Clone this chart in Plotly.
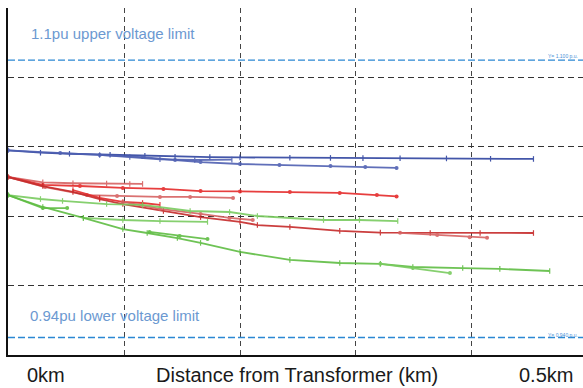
import plotly.graph_objects as go

# ---- data (distance km, voltage pu) ----
blue_main_x = [0, 0.028, 0.053, 0.088, 0.118, 0.144, 0.174, 0.200, 0.243, 0.278, 0.306, 0.338, 0.378, 0.416, 0.453]
blue_main_y = [1.048, 1.0466, 1.046, 1.0454, 1.0448, 1.0443, 1.0441, 1.0439, 1.0437, 1.0436, 1.0435, 1.0434, 1.0433, 1.0431, 1.043]
blue_low_x = [0, 0.045, 0.079, 0.116, 0.144, 0.166, 0.200, 0.234, 0.278, 0.308, 0.335]
blue_low_y = [1.048, 1.0464, 1.0453, 1.0441, 1.0424, 1.0412, 1.0401, 1.0395, 1.0389, 1.0383, 1.0378]
blue_short_x = [0.079, 0.105, 0.131, 0.161, 0.193]
blue_short_y = [1.0453, 1.0441, 1.0428, 1.0424, 1.0426]

red_a_x = [0, 0.030, 0.056, 0.085, 0.105, 0.116]
red_a_y = [1.0326, 1.0295, 1.029, 1.0288, 1.0286, 1.0286]
red_b_x = [0, 0.030, 0.062, 0.099, 0.134, 0.166, 0.200, 0.243, 0.286, 0.318, 0.335]
red_b_y = [1.0326, 1.028, 1.0274, 1.0263, 1.0257, 1.0245, 1.0243, 1.0239, 1.0234, 1.0222, 1.0214]
red_c_x = [0, 0.032, 0.068, 0.094, 0.131, 0.157, 0.194]
red_c_y = [1.0326, 1.0268, 1.0222, 1.0216, 1.0211, 1.0211, 1.0205]
red_d_x = [0.056, 0.079, 0.099, 0.116, 0.131]
red_d_y = [1.0251, 1.0205, 1.0182, 1.0176, 1.0165]
red_e_x = [0, 0.030, 0.056, 0.079, 0.099, 0.134, 0.166, 0.200, 0.215, 0.243, 0.286, 0.321, 0.364, 0.407, 0.453]
red_e_y = [1.0326, 1.0274, 1.024, 1.0199, 1.017, 1.013, 1.0095, 1.0067, 1.0049, 1.0038, 1.0015, 1.0005, 1.0003, 1.0003, 1.0003]
red_f_x = [0.099, 0.131, 0.166, 0.191, 0.211]
red_f_y = [1.0182, 1.0142, 1.0113, 1.009, 1.0078]
red_g_x = [0.338, 0.370, 0.398, 0.413]
red_g_y = [1.0004, 0.9992, 0.9978, 0.9976]

green_a_x = [0, 0.028, 0.047, 0.085, 0.116, 0.157, 0.191, 0.215, 0.272, 0.303, 0.336]
green_a_y = [1.0222, 1.0199, 1.0188, 1.017, 1.0165, 1.013, 1.0124, 1.0101, 1.0078, 1.0078, 1.0072]
green_b_x = [0, 0.030, 0.051]
green_b_y = [1.0222, 1.0147, 1.0147]
green_c_x = [0.065, 0.099, 0.131, 0.172]
green_c_y = [1.009, 1.0078, 1.0072, 1.0067]
green_d_x = [0, 0.030, 0.065, 0.099, 0.120, 0.146, 0.166, 0.200, 0.243, 0.286, 0.321, 0.349, 0.392, 0.424, 0.467]
green_d_y = [1.0222, 1.0153, 1.009, 1.0026, 1.0003, 0.9974, 0.9946, 0.9894, 0.9848, 0.983, 0.9825, 0.9807, 0.9801, 0.9796, 0.9784]
green_e_x = [0.122, 0.148, 0.172]
green_e_y = [1.0009, 0.9986, 0.9968]
green_f_x = [0.321, 0.349, 0.381]
green_f_y = [0.9825, 0.9801, 0.9772]

upper_limit = 1.10
lower_limit = 0.94
x_ticks = [0, 0.1, 0.2, 0.3, 0.4]
y_ticks = [0.93, 0.97, 1.01, 1.05, 1.09, 1.13]

BLUE = "#2f44a0"
BLUE_L = "#4f60b2"
RED = "#e52a2a"
RED_L = "#d66262"
RED_D = "#c62a2a"
GREEN = "#5fbd43"
GREEN_L = "#7acb60"

series = [
    (blue_main_x, blue_main_y, BLUE, "line-ns"),
    (blue_low_x, blue_low_y, BLUE_L, "circle"),
    (blue_short_x, blue_short_y, BLUE_L, "line-ns"),
    (red_a_x, red_a_y, RED_L, "line-ns"),
    (red_b_x, red_b_y, RED, "circle"),
    (red_c_x, red_c_y, RED_L, "circle"),
    (red_d_x, red_d_y, RED, "line-ns"),
    (red_e_x, red_e_y, RED_D, "line-ns"),
    (red_f_x, red_f_y, RED_L, "circle"),
    (red_g_x, red_g_y, RED_L, "circle"),
    (green_a_x, green_a_y, GREEN_L, "line-ns"),
    (green_b_x, green_b_y, GREEN, "circle"),
    (green_c_x, green_c_y, GREEN_L, "line-ns"),
    (green_d_x, green_d_y, GREEN, "line-ns"),
    (green_e_x, green_e_y, GREEN, "circle"),
    (green_f_x, green_f_y, GREEN_L, "circle"),
]

fig = go.Figure()
for xs, ys, col, sym in series:
    if sym == "circle":
        mk = dict(symbol="circle", size=4, color=col)
    else:
        mk = dict(symbol="line-ns", size=4, color=col, line=dict(color=col, width=1.2))
    fig.add_trace(go.Scatter(x=xs, y=ys, mode="lines+markers", opacity=0.9,
                             line=dict(color=col, width=1.8), marker=mk,
                             showlegend=False, hoverinfo="skip"))

LIMIT_COL = "#2b88d3"
for v in (upper_limit, lower_limit):
    fig.add_shape(type="line", xref="paper", yref="y", x0=0, x1=1, y0=v, y1=v,
                  line=dict(color=LIMIT_COL, width=1.4, dash="7px,3px"), layer="above")

TXT = "#6c99d1"
fig.add_annotation(x=0.0365, y=1.1156, xref="paper", yref="y", xanchor="left", yanchor="middle",
                   text="1.1pu upper voltage limit", showarrow=False,
                   font=dict(family="Liberation Sans, Arial", size=15, color=TXT))
fig.add_annotation(x=0.0348, y=0.9525, xref="paper", yref="y", xanchor="left", yanchor="middle",
                   text="0.94pu lower voltage limit", showarrow=False,
                   font=dict(family="Liberation Sans, Arial", size=15, color=TXT))
fig.add_annotation(x=0.995, y=1.1023, xref="paper", yref="y", xanchor="right", yanchor="middle",
                   text="Y= 1.100 p.u.", showarrow=False,
                   font=dict(family="Liberation Sans, Arial", size=5, color="#4a8fd6"))
fig.add_annotation(x=0.995, y=0.9415, xref="paper", yref="y", xanchor="right", yanchor="middle",
                   text="Y= 0.940 p.u.", showarrow=False,
                   font=dict(family="Liberation Sans, Arial", size=5, color="#4a8fd6"))

BOT = dict(family="Liberation Sans, Arial", size=20, color="#1a1a1a")
fig.add_annotation(x=0.0296, y=-0.058, xref="paper", yref="paper", xanchor="left", yanchor="middle",
                   text="0km", showarrow=False, font=BOT)
fig.add_annotation(x=0.5026, y=-0.058, xref="paper", yref="paper", xanchor="center", yanchor="middle",
                   text="Distance from Transformer (km)", showarrow=False, font=BOT)
fig.add_annotation(x=0.986, y=-0.058, xref="paper", yref="paper", xanchor="right", yanchor="middle",
                   text="0.5km", showarrow=False, font=BOT)

fig.update_xaxes(range=[0, 0.4957], tickvals=x_ticks, showticklabels=False, ticks="",
                 showgrid=True, gridcolor="#444444", gridwidth=1, griddash="5px,4px",
                 zeroline=False, showline=True, linecolor="#111111", linewidth=1.5, mirror=False)
fig.update_yaxes(range=[0.92995, 1.13005], tickvals=y_ticks, showticklabels=False, ticks="",
                 showgrid=True, gridcolor="#333333", gridwidth=1, griddash="6px,4px",
                 zeroline=False, showline=True, linecolor="#111111", linewidth=1.5, mirror=False)

fig.update_layout(width=583, height=388, margin=dict(l=8, r=0, t=8, b=33),
                  paper_bgcolor="white", plot_bgcolor="white")

fig.write_html("out.html")
